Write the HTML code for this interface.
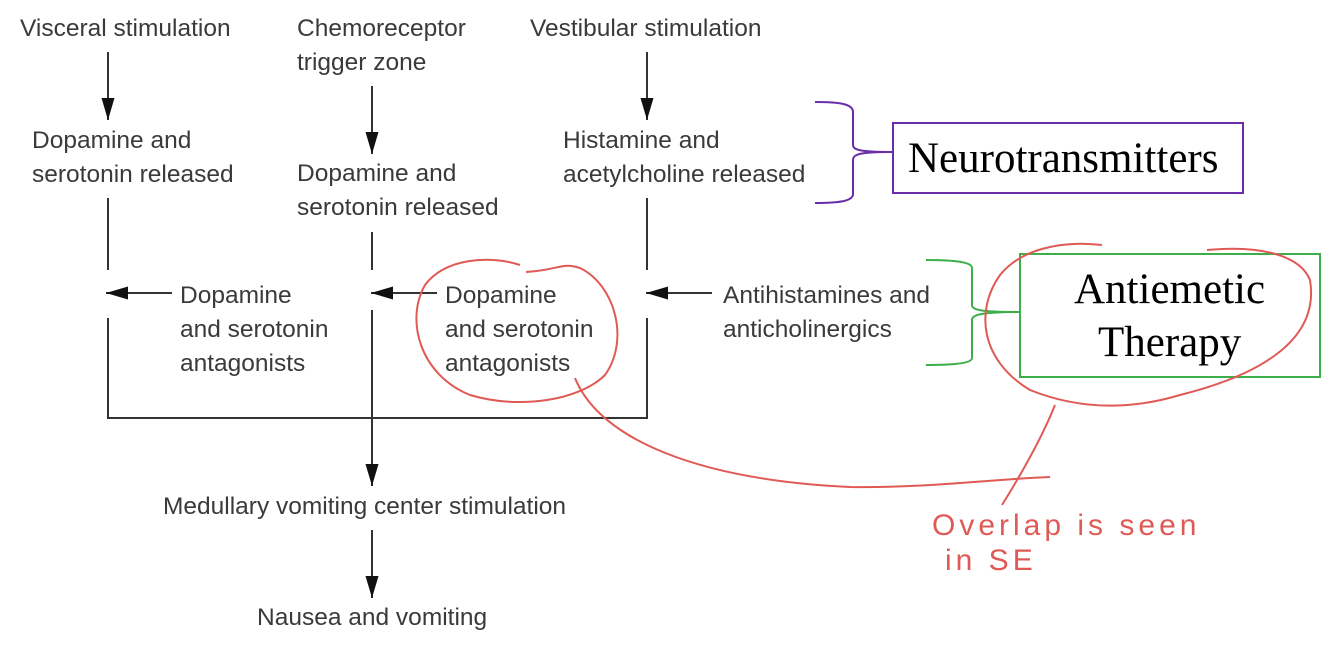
<!DOCTYPE html>
<html><head><meta charset="utf-8"><style>
html,body{margin:0;padding:0;background:#fff;}
svg{display:block}
.t{font-family:"Liberation Sans",sans-serif;font-size:24.5px;fill:#3a3a3a;}
.s{font-family:"Liberation Serif",serif;font-size:43px;fill:#000;}
.h{font-family:"Liberation Sans",sans-serif;font-size:30px;fill:#e05a55;letter-spacing:4px;}
</style></head><body>
<svg width="1334" height="648" viewBox="0 0 1334 648">
<defs>
<marker id="b" viewBox="0 0 22 14" refX="22" refY="7" markerWidth="22" markerHeight="14" markerUnits="userSpaceOnUse" orient="auto"><path d="M0,0.5L22,7L0,13.5z" fill="#111"/></marker></defs>
<g stroke="#333" stroke-width="2" fill="none">
<line x1="108" y1="52" x2="108" y2="120" marker-end="url(#b)"/>
<line x1="372" y1="86" x2="372" y2="154" marker-end="url(#b)"/>
<line x1="647" y1="52" x2="647" y2="120" marker-end="url(#b)"/>
<line x1="108" y1="198" x2="108" y2="270"/>
<line x1="372" y1="232" x2="372" y2="270"/>
<line x1="647" y1="198" x2="647" y2="270"/>
<line x1="172" y1="293" x2="106" y2="293" marker-end="url(#b)"/>
<line x1="437" y1="293" x2="371" y2="293" marker-end="url(#b)"/>
<line x1="712" y1="293" x2="646" y2="293" marker-end="url(#b)"/>
<polyline points="108,318 108,418 647,418 647,318"/>
<line x1="372" y1="310" x2="372" y2="486" marker-end="url(#b)"/>
<line x1="372" y1="530" x2="372" y2="598" marker-end="url(#b)"/>
</g>
<text class="t" x="20" y="36">Visceral stimulation</text>
<text class="t" x="297" y="36">Chemoreceptor</text>
<text class="t" x="297" y="70">trigger zone</text>
<text class="t" x="530" y="36">Vestibular stimulation</text>
<text class="t" x="32" y="148">Dopamine and</text>
<text class="t" x="32" y="182">serotonin released</text>
<text class="t" x="297" y="181">Dopamine and</text>
<text class="t" x="297" y="215">serotonin released</text>
<text class="t" x="563" y="148">Histamine and</text>
<text class="t" x="563" y="182">acetylcholine released</text>
<text class="t" x="180" y="303">Dopamine</text>
<text class="t" x="180" y="337">and serotonin</text>
<text class="t" x="180" y="371">antagonists</text>
<text class="t" x="445" y="303">Dopamine</text>
<text class="t" x="445" y="337">and serotonin</text>
<text class="t" x="445" y="371">antagonists</text>
<text class="t" x="723" y="303">Antihistamines and</text>
<text class="t" x="723" y="337">anticholinergics</text>
<text class="t" x="163" y="514">Medullary vomiting center stimulation</text>
<text class="t" x="257" y="625">Nausea and vomiting</text>
<path d="M815,102 C840,102 853,104 853,112 L853,145 C853,150 860,152 893,152 M815,203 C840,203 853,201 853,194 L853,160 C853,154 860,152 893,152" stroke="#6a2fa8" stroke-width="2" fill="none"/>
<rect x="893" y="123" width="350" height="70" fill="none" stroke="#6a2fa8" stroke-width="2"/>
<text class="s" x="908" y="172">Neurotransmitters</text>
<path d="M926,260 C955,260 972,262 972,268 L972,305 C972,310 980,312 1020,312 M926,365 C955,365 972,363 972,358 L972,320 C972,315 980,312 1020,312" stroke="#3cae4a" stroke-width="2" fill="none"/>
<rect x="1020" y="254" width="300" height="123" fill="none" stroke="#3cae4a" stroke-width="2"/>
<text class="s" x="1074" y="303">Antiemetic</text>
<text class="s" x="1098" y="356">Therapy</text>
<g stroke="#e05a55" stroke-width="2" fill="none">
<path d="M526,272 C560,270 560,262 580,268 C615,285 630,340 605,375 C580,400 520,410 470,395 C420,375 405,320 425,285 C445,258 490,255 520,265"/>
<path d="M575,378 C600,440 700,480 850,487 C930,488 980,480 1050,477"/>
<path d="M1002,505 C1030,460 1045,430 1055,405"/>
<path d="M1102,245 C1060,240 1020,250 1000,275 C975,310 980,360 1030,390 C1080,410 1130,410 1180,395 C1260,375 1320,340 1310,280 C1300,255 1260,245 1207,250"/>
</g>
<text class="h" x="932" y="535">Overlap is seen</text>
<text class="h" x="945" y="570">in SE</text>
</svg>
</body></html>
